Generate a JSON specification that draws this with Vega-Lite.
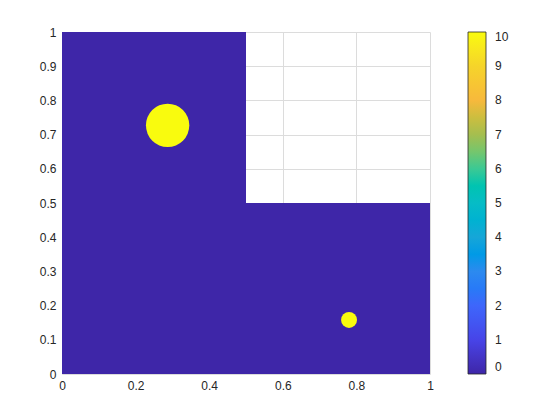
{
  "$schema": "https://vega.github.io/schema/vega-lite/v6.json",
  "width": 368,
  "height": 342,
  "autosize": {"type": "none"},
  "padding": {"left": 62, "top": 32, "right": 130, "bottom": 46},
  "background": "white",
  "config": {
    "view": {"stroke": null},
    "font": "Liberation Sans",
    "axis": {
      "domain": false,
      "ticks": false,
      "grid": true,
      "gridColor": "#dcdcdc",
      "gridWidth": 1,
      "labelFont": "Liberation Sans",
      "labelFontSize": 12,
      "labelColor": "#262626",
      "labelOverlap": false,
      "title": null
    }
  },
  "datasets": {
    "regions": [
      {"x0": 0, "x1": 0.5, "y0": 0, "y1": 1, "v": 0},
      {"x0": 0.5, "x1": 1, "y0": 0, "y1": 0.5, "v": 0}
    ],
    "blobs": [
      {"cx": 0.287, "cy": 0.727, "r": 0.0665, "v": 10},
      {"cx": 0.78, "cy": 0.158, "r": 0.0245, "v": 10}
    ]
  },
  "layer": [
    {
      "data": {"name": "regions"},
      "mark": {"type": "rect", "strokeWidth": 0},
      "encoding": {
        "x": {"field": "x0", "type": "quantitative",
              "scale": {"domain": [0, 1], "nice": false, "zero": false},
              "axis": {"values": [0, 0.2, 0.4, 0.6, 0.8, 1], "labelPadding": 6, "labelFlush": false, "format": "~g"}},
        "x2": {"field": "x1"},
        "y": {"field": "y0", "type": "quantitative",
              "scale": {"domain": [0, 1], "nice": false, "zero": false},
              "axis": {"values": [0, 0.1, 0.2, 0.3, 0.4, 0.5, 0.6, 0.7, 0.8, 0.9, 1], "labelPadding": 6, "labelFlush": false, "format": "~g"}},
        "y2": {"field": "y1"},
        "color": {
          "field": "v", "type": "quantitative",
          "scale": {
            "domain": [0, 10],
            "range": ["#3e26a8", "#4744e8", "#3e66fb", "#2c8aef", "#16a6d8", "#06bcc6", "#3bc994", "#a5be4f", "#f7b93c", "#f5d42a", "#f9fb0e"]
          },
          "legend": {
            "orient": "right",
            "offset": 38,
            "title": null,
            "gradientLength": 342,
            "gradientThickness": 18,
            "gradientStrokeColor": "#262626",
            "gradientStrokeWidth": 0.8,
            "values": [0, 1, 2, 3, 4, 5, 6, 7, 8, 9, 10],
            "labelFont": "Liberation Sans",
            "labelFontSize": 12,
            "labelColor": "#262626",
            "labelOffset": 9,
            "labelOverlap": false,
            "labelFlush": 0,
            "labelBaseline": "middle"
          }
        }
      }
    },
    {
      "data": {"name": "blobs"},
      "mark": {"type": "point", "shape": "circle", "filled": true, "opacity": 1, "strokeWidth": 0},
      "encoding": {
        "x": {"field": "cx", "type": "quantitative",
              "axis": {"values": [0, 0.2, 0.4, 0.6, 0.8, 1], "labelPadding": 6, "labelFlush": false, "format": "~g"}},
        "y": {"field": "cy", "type": "quantitative",
              "axis": {"values": [0, 0.1, 0.2, 0.3, 0.4, 0.5, 0.6, 0.7, 0.8, 0.9, 1], "labelPadding": 6, "labelFlush": false, "format": "~g"}},
        "size": {"field": "r", "type": "quantitative",
                 "scale": {"type": "pow", "exponent": 2, "domain": [0, 0.1], "range": [0, 4254]},
                 "legend": null},
        "color": {"field": "v", "type": "quantitative"}
      }
    }
  ]
}
